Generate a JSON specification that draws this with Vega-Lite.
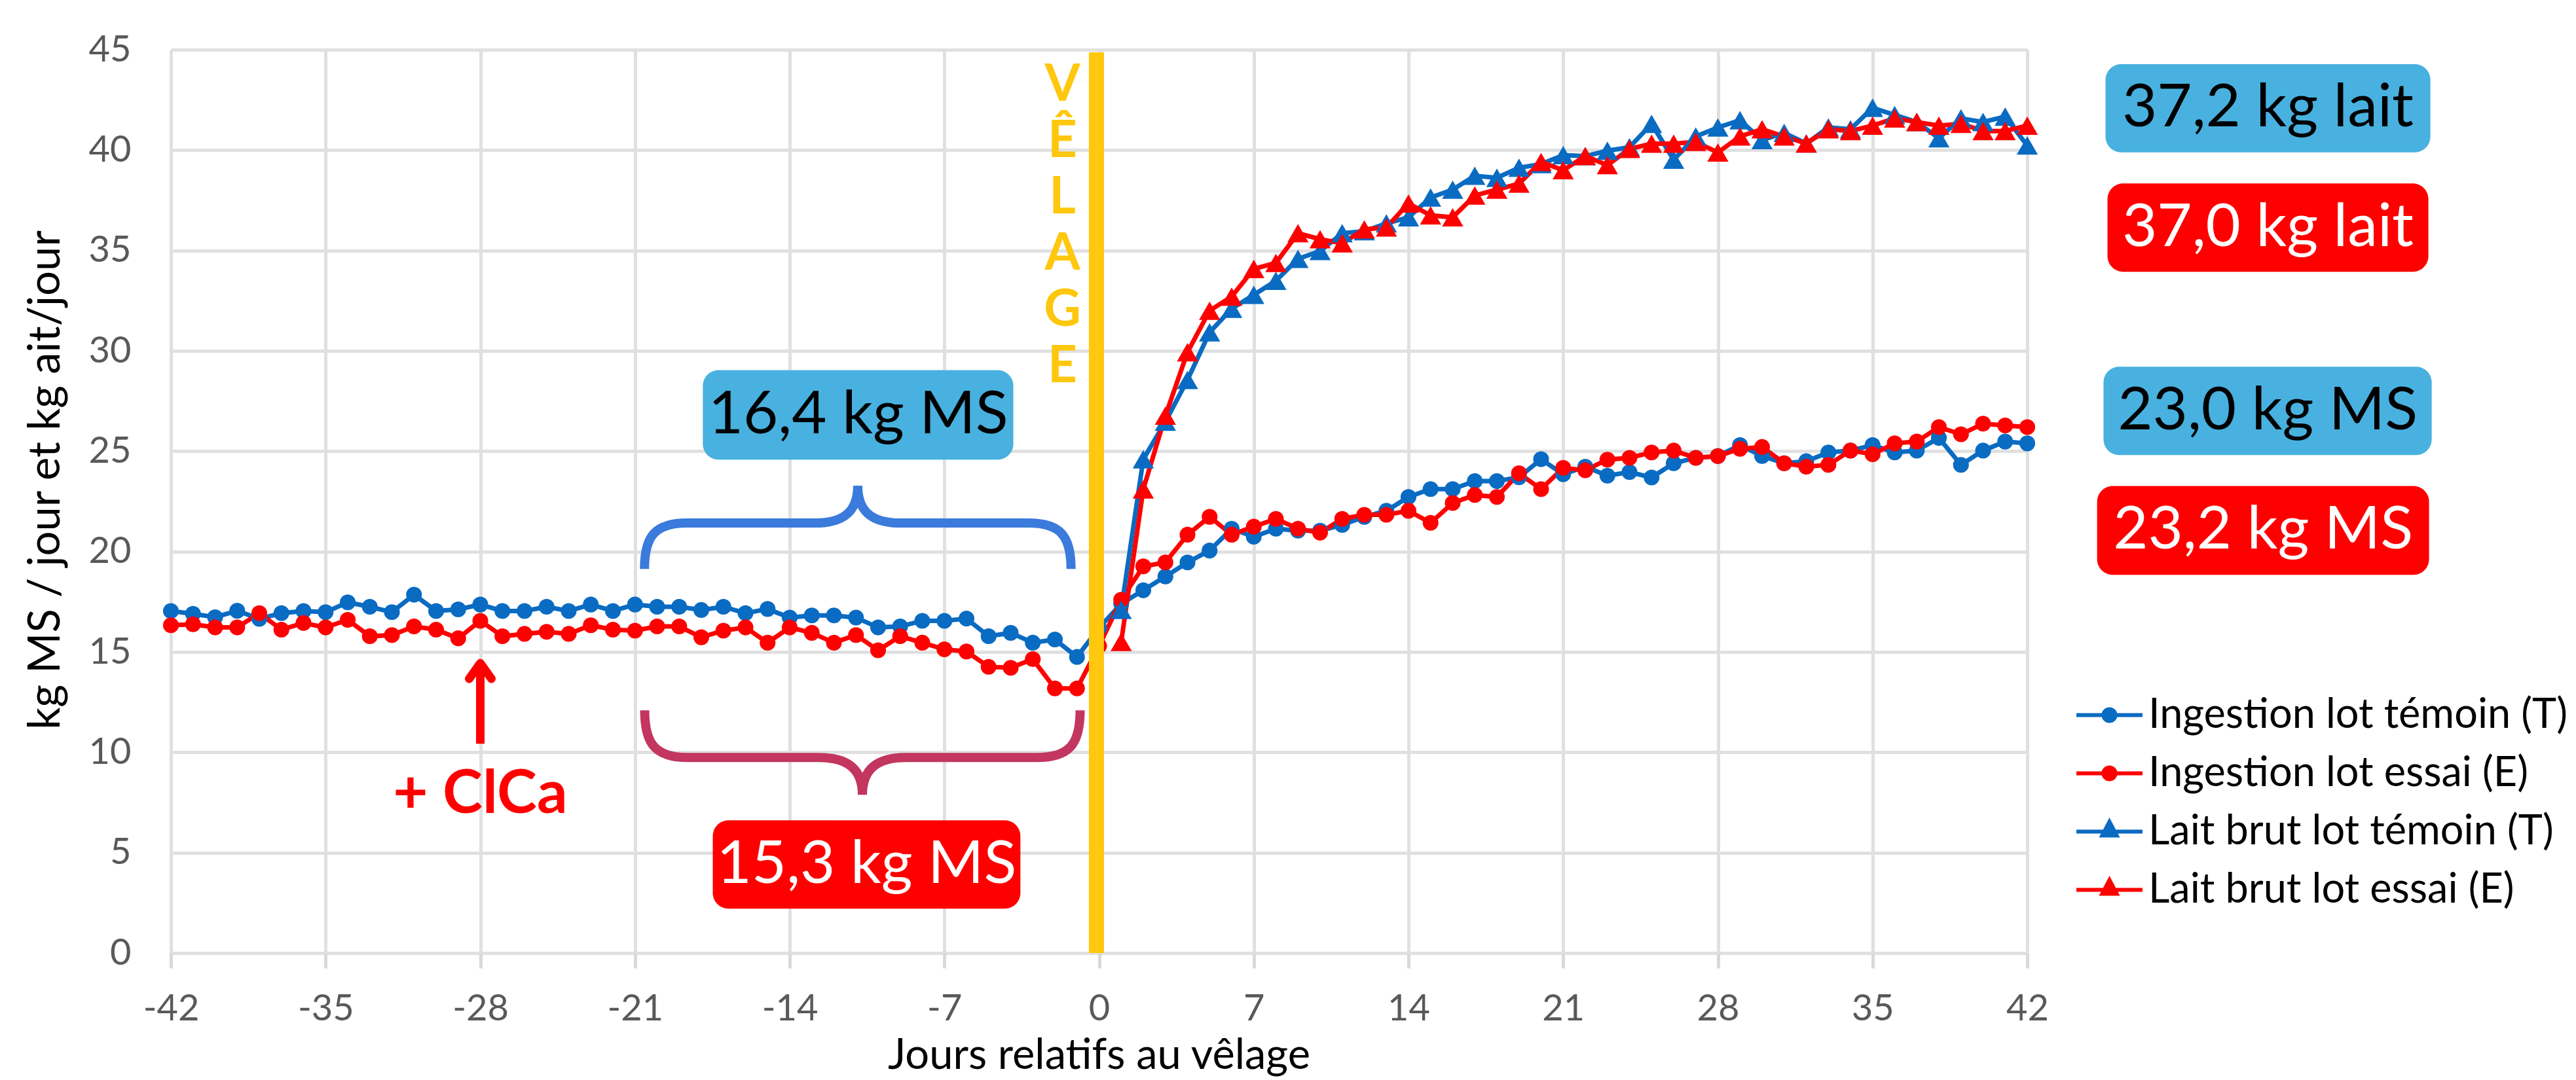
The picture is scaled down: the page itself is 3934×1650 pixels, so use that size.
{
  "$schema": "https://vega.github.io/schema/vega-lite/v6.json",
  "width": 2835,
  "height": 1380,
  "autosize": {"type": "none"},
  "padding": {"left": 261, "top": 76, "right": 838, "bottom": 194},
  "background": "#ffffff",
  "config": {"font": "Lato", "view": {"stroke": null}},
  "data": {"values": [
    {"jour":-42,"serie":"IT","kg":17.04},{"jour":-41,"serie":"IT","kg":16.9},{"jour":-40,"serie":"IT","kg":16.73},{"jour":-39,"serie":"IT","kg":17.05},{"jour":-38,"serie":"IT","kg":16.65},{"jour":-37,"serie":"IT","kg":16.93},{"jour":-36,"serie":"IT","kg":17.04},{"jour":-35,"serie":"IT","kg":16.98},{"jour":-34,"serie":"IT","kg":17.47},{"jour":-33,"serie":"IT","kg":17.25},{"jour":-32,"serie":"IT","kg":16.98},{"jour":-31,"serie":"IT","kg":17.85},{"jour":-30,"serie":"IT","kg":17.04},{"jour":-29,"serie":"IT","kg":17.12},{"jour":-28,"serie":"IT","kg":17.36},{"jour":-27,"serie":"IT","kg":17.04},{"jour":-26,"serie":"IT","kg":17.04},{"jour":-25,"serie":"IT","kg":17.25},{"jour":-24,"serie":"IT","kg":17.04},{"jour":-23,"serie":"IT","kg":17.36},{"jour":-22,"serie":"IT","kg":17.04},{"jour":-21,"serie":"IT","kg":17.36},{"jour":-20,"serie":"IT","kg":17.25},{"jour":-19,"serie":"IT","kg":17.25},{"jour":-18,"serie":"IT","kg":17.09},{"jour":-17,"serie":"IT","kg":17.25},{"jour":-16,"serie":"IT","kg":16.93},{"jour":-15,"serie":"IT","kg":17.14},{"jour":-14,"serie":"IT","kg":16.71},{"jour":-13,"serie":"IT","kg":16.82},{"jour":-12,"serie":"IT","kg":16.82},{"jour":-11,"serie":"IT","kg":16.71},{"jour":-10,"serie":"IT","kg":16.22},{"jour":-9,"serie":"IT","kg":16.27},{"jour":-8,"serie":"IT","kg":16.55},{"jour":-7,"serie":"IT","kg":16.55},{"jour":-6,"serie":"IT","kg":16.66},{"jour":-5,"serie":"IT","kg":15.78},{"jour":-4,"serie":"IT","kg":15.95},{"jour":-3,"serie":"IT","kg":15.46},{"jour":-2,"serie":"IT","kg":15.62},{"jour":-1,"serie":"IT","kg":14.75},{"jour":0,"serie":"IT","kg":16.2},{"jour":1,"serie":"IT","kg":17.4},{"jour":2,"serie":"IT","kg":18.07},{"jour":3,"serie":"IT","kg":18.76},{"jour":4,"serie":"IT","kg":19.46},{"jour":5,"serie":"IT","kg":20.05},{"jour":6,"serie":"IT","kg":21.14},{"jour":7,"serie":"IT","kg":20.74},{"jour":8,"serie":"IT","kg":21.14},{"jour":9,"serie":"IT","kg":21.04},{"jour":10,"serie":"IT","kg":21.04},{"jour":11,"serie":"IT","kg":21.33},{"jour":12,"serie":"IT","kg":21.73},{"jour":13,"serie":"IT","kg":22.03},{"jour":14,"serie":"IT","kg":22.72},{"jour":15,"serie":"IT","kg":23.11},{"jour":16,"serie":"IT","kg":23.11},{"jour":17,"serie":"IT","kg":23.51},{"jour":18,"serie":"IT","kg":23.51},{"jour":19,"serie":"IT","kg":23.7},{"jour":20,"serie":"IT","kg":24.6},{"jour":21,"serie":"IT","kg":23.85},{"jour":22,"serie":"IT","kg":24.23},{"jour":23,"serie":"IT","kg":23.78},{"jour":24,"serie":"IT","kg":23.96},{"jour":25,"serie":"IT","kg":23.69},{"jour":26,"serie":"IT","kg":24.4},{"jour":27,"serie":"IT","kg":24.67},{"jour":28,"serie":"IT","kg":24.76},{"jour":29,"serie":"IT","kg":25.3},{"jour":30,"serie":"IT","kg":24.76},{"jour":31,"serie":"IT","kg":24.4},{"jour":32,"serie":"IT","kg":24.5},{"jour":33,"serie":"IT","kg":24.94},{"jour":34,"serie":"IT","kg":25.03},{"jour":35,"serie":"IT","kg":25.3},{"jour":36,"serie":"IT","kg":24.94},{"jour":37,"serie":"IT","kg":25.03},{"jour":38,"serie":"IT","kg":25.66},{"jour":39,"serie":"IT","kg":24.32},{"jour":40,"serie":"IT","kg":25.03},{"jour":41,"serie":"IT","kg":25.48},{"jour":42,"serie":"IT","kg":25.39},
    {"jour":-42,"serie":"IE","kg":16.33},{"jour":-41,"serie":"IE","kg":16.38},{"jour":-40,"serie":"IE","kg":16.22},{"jour":-39,"serie":"IE","kg":16.22},{"jour":-38,"serie":"IE","kg":16.93},{"jour":-37,"serie":"IE","kg":16.11},{"jour":-36,"serie":"IE","kg":16.44},{"jour":-35,"serie":"IE","kg":16.22},{"jour":-34,"serie":"IE","kg":16.6},{"jour":-33,"serie":"IE","kg":15.78},{"jour":-32,"serie":"IE","kg":15.84},{"jour":-31,"serie":"IE","kg":16.27},{"jour":-30,"serie":"IE","kg":16.11},{"jour":-29,"serie":"IE","kg":15.68},{"jour":-28,"serie":"IE","kg":16.55},{"jour":-27,"serie":"IE","kg":15.78},{"jour":-26,"serie":"IE","kg":15.9},{"jour":-25,"serie":"IE","kg":16.0},{"jour":-24,"serie":"IE","kg":15.9},{"jour":-23,"serie":"IE","kg":16.33},{"jour":-22,"serie":"IE","kg":16.11},{"jour":-21,"serie":"IE","kg":16.06},{"jour":-20,"serie":"IE","kg":16.27},{"jour":-19,"serie":"IE","kg":16.27},{"jour":-18,"serie":"IE","kg":15.73},{"jour":-17,"serie":"IE","kg":16.06},{"jour":-16,"serie":"IE","kg":16.22},{"jour":-15,"serie":"IE","kg":15.46},{"jour":-14,"serie":"IE","kg":16.22},{"jour":-13,"serie":"IE","kg":15.95},{"jour":-12,"serie":"IE","kg":15.46},{"jour":-11,"serie":"IE","kg":15.84},{"jour":-10,"serie":"IE","kg":15.08},{"jour":-9,"serie":"IE","kg":15.78},{"jour":-8,"serie":"IE","kg":15.46},{"jour":-7,"serie":"IE","kg":15.13},{"jour":-6,"serie":"IE","kg":15.02},{"jour":-5,"serie":"IE","kg":14.26},{"jour":-4,"serie":"IE","kg":14.21},{"jour":-3,"serie":"IE","kg":14.64},{"jour":-2,"serie":"IE","kg":13.18},{"jour":-1,"serie":"IE","kg":13.18},{"jour":0,"serie":"IE","kg":15.3},{"jour":1,"serie":"IE","kg":17.6},{"jour":2,"serie":"IE","kg":19.26},{"jour":3,"serie":"IE","kg":19.46},{"jour":4,"serie":"IE","kg":20.84},{"jour":5,"serie":"IE","kg":21.73},{"jour":6,"serie":"IE","kg":20.84},{"jour":7,"serie":"IE","kg":21.24},{"jour":8,"serie":"IE","kg":21.63},{"jour":9,"serie":"IE","kg":21.14},{"jour":10,"serie":"IE","kg":20.94},{"jour":11,"serie":"IE","kg":21.63},{"jour":12,"serie":"IE","kg":21.83},{"jour":13,"serie":"IE","kg":21.83},{"jour":14,"serie":"IE","kg":22.03},{"jour":15,"serie":"IE","kg":21.43},{"jour":16,"serie":"IE","kg":22.42},{"jour":17,"serie":"IE","kg":22.82},{"jour":18,"serie":"IE","kg":22.72},{"jour":19,"serie":"IE","kg":23.9},{"jour":20,"serie":"IE","kg":23.11},{"jour":21,"serie":"IE","kg":24.17},{"jour":22,"serie":"IE","kg":24.05},{"jour":23,"serie":"IE","kg":24.58},{"jour":24,"serie":"IE","kg":24.67},{"jour":25,"serie":"IE","kg":24.94},{"jour":26,"serie":"IE","kg":25.03},{"jour":27,"serie":"IE","kg":24.67},{"jour":28,"serie":"IE","kg":24.76},{"jour":29,"serie":"IE","kg":25.12},{"jour":30,"serie":"IE","kg":25.21},{"jour":31,"serie":"IE","kg":24.4},{"jour":32,"serie":"IE","kg":24.23},{"jour":33,"serie":"IE","kg":24.32},{"jour":34,"serie":"IE","kg":25.03},{"jour":35,"serie":"IE","kg":24.85},{"jour":36,"serie":"IE","kg":25.39},{"jour":37,"serie":"IE","kg":25.48},{"jour":38,"serie":"IE","kg":26.2},{"jour":39,"serie":"IE","kg":25.84},{"jour":40,"serie":"IE","kg":26.37},{"jour":41,"serie":"IE","kg":26.28},{"jour":42,"serie":"IE","kg":26.2},
    {"jour":1,"serie":"LT","kg":17.1},{"jour":2,"serie":"LT","kg":24.6},{"jour":3,"serie":"LT","kg":26.47},{"jour":4,"serie":"LT","kg":28.55},{"jour":5,"serie":"LT","kg":30.92},{"jour":6,"serie":"LT","kg":32.1},{"jour":7,"serie":"LT","kg":32.79},{"jour":8,"serie":"LT","kg":33.49},{"jour":9,"serie":"LT","kg":34.58},{"jour":10,"serie":"LT","kg":34.97},{"jour":11,"serie":"LT","kg":35.86},{"jour":12,"serie":"LT","kg":35.96},{"jour":13,"serie":"LT","kg":36.35},{"jour":14,"serie":"LT","kg":36.65},{"jour":15,"serie":"LT","kg":37.64},{"jour":16,"serie":"LT","kg":38.03},{"jour":17,"serie":"LT","kg":38.72},{"jour":18,"serie":"LT","kg":38.62},{"jour":19,"serie":"LT","kg":39.12},{"jour":20,"serie":"LT","kg":39.3},{"jour":21,"serie":"LT","kg":39.75},{"jour":22,"serie":"LT","kg":39.7},{"jour":23,"serie":"LT","kg":39.97},{"jour":24,"serie":"LT","kg":40.14},{"jour":25,"serie":"LT","kg":41.31},{"jour":26,"serie":"LT","kg":39.52},{"jour":27,"serie":"LT","kg":40.68},{"jour":28,"serie":"LT","kg":41.13},{"jour":29,"serie":"LT","kg":41.49},{"jour":30,"serie":"LT","kg":40.5},{"jour":31,"serie":"LT","kg":40.86},{"jour":32,"serie":"LT","kg":40.33},{"jour":33,"serie":"LT","kg":41.13},{"jour":34,"serie":"LT","kg":41.04},{"jour":35,"serie":"LT","kg":42.11},{"jour":36,"serie":"LT","kg":41.75},{"jour":37,"serie":"LT","kg":41.4},{"jour":38,"serie":"LT","kg":40.59},{"jour":39,"serie":"LT","kg":41.58},{"jour":40,"serie":"LT","kg":41.4},{"jour":41,"serie":"LT","kg":41.67},{"jour":42,"serie":"LT","kg":40.23},
    {"jour":1,"serie":"LE","kg":15.5},{"jour":2,"serie":"LE","kg":23.1},{"jour":3,"serie":"LE","kg":26.77},{"jour":4,"serie":"LE","kg":29.93},{"jour":5,"serie":"LE","kg":32.0},{"jour":6,"serie":"LE","kg":32.7},{"jour":7,"serie":"LE","kg":34.08},{"jour":8,"serie":"LE","kg":34.38},{"jour":9,"serie":"LE","kg":35.86},{"jour":10,"serie":"LE","kg":35.56},{"jour":11,"serie":"LE","kg":35.36},{"jour":12,"serie":"LE","kg":36.05},{"jour":13,"serie":"LE","kg":36.15},{"jour":14,"serie":"LE","kg":37.34},{"jour":15,"serie":"LE","kg":36.75},{"jour":16,"serie":"LE","kg":36.65},{"jour":17,"serie":"LE","kg":37.74},{"jour":18,"serie":"LE","kg":38.03},{"jour":19,"serie":"LE","kg":38.33},{"jour":20,"serie":"LE","kg":39.41},{"jour":21,"serie":"LE","kg":39.0},{"jour":22,"serie":"LE","kg":39.7},{"jour":23,"serie":"LE","kg":39.25},{"jour":24,"serie":"LE","kg":40.06},{"jour":25,"serie":"LE","kg":40.32},{"jour":26,"serie":"LE","kg":40.32},{"jour":27,"serie":"LE","kg":40.41},{"jour":28,"serie":"LE","kg":39.88},{"jour":29,"serie":"LE","kg":40.68},{"jour":30,"serie":"LE","kg":41.04},{"jour":31,"serie":"LE","kg":40.68},{"jour":32,"serie":"LE","kg":40.33},{"jour":33,"serie":"LE","kg":41.04},{"jour":34,"serie":"LE","kg":40.95},{"jour":35,"serie":"LE","kg":41.22},{"jour":36,"serie":"LE","kg":41.58},{"jour":37,"serie":"LE","kg":41.4},{"jour":38,"serie":"LE","kg":41.22},{"jour":39,"serie":"LE","kg":41.31},{"jour":40,"serie":"LE","kg":40.95},{"jour":41,"serie":"LE","kg":40.95},{"jour":42,"serie":"LE","kg":41.22}
  ]},
  "layer": [
    {
      "mark": {"type": "line", "strokeWidth": 7},
      "encoding": {
        "x": {"field": "jour", "type": "quantitative",
          "scale": {"domain": [-42, 42], "nice": false, "zero": false},
          "axis": {"values": [-42,-35,-28,-21,-14,-7,0,7,14,21,28,35,42], "title": "Jours relatifs au vêlage",
            "grid": true, "gridColor": "#E0E0E0", "gridWidth": 5, "domain": false,
            "ticks": true, "tickSize": 23, "tickColor": "#D9D9D9", "tickWidth": 5,
            "labelFont": "Lato", "labelFontSize": 56, "labelColor": "#595959", "labelPadding": 35, "labelFlush": false,
            "labelExpr": "'' + datum.value",
            "titleFont": "Lato", "titleFontSize": 65, "titleFontWeight": "normal", "titleColor": "#000000",
            "titleX": 1417, "titleY": 176, "titleAlign": "center", "titleBaseline": "alphabetic"}},
        "y": {"field": "kg", "type": "quantitative",
          "scale": {"domain": [0, 45], "nice": false},
          "axis": {"values": [0,5,10,15,20,25,30,35,40,45], "title": "kg MS / jour et kg ait/jour",
            "grid": true, "gridColor": "#E0E0E0", "gridWidth": 5, "domain": false, "ticks": false,
            "labelFont": "Lato", "labelFontSize": 56, "labelColor": "#595959", "labelPadding": 61, "labelFlush": false,
            "titleFont": "Lato", "titleFontSize": 67, "titleFontWeight": "normal", "titleColor": "#000000",
            "titleX": -191, "titleY": 657, "titleAngle": -90, "titleAlign": "center", "titleBaseline": "middle"}},
        "color": {"field": "serie", "type": "nominal",
          "scale": {"domain": ["IT","IE","LT","LE"], "range": ["#0A6BC2","#FF0000","#0A6BC2","#FF0000"]},
          "legend": {"orient": "none", "legendX": 2907, "legendY": 963, "title": null, "direction": "vertical",
            "padding": 0, "symbolSize": 10201, "symbolStrokeWidth": 6, "rowPadding": 3,
            "labelFont": "Lato", "labelFontSize": 63, "labelColor": "#000000", "labelOffset": 6, "labelLimit": 0,
            "labelExpr": "datum.value == 'IT' ? 'Ingestion lot témoin (T)' : datum.value == 'IE' ? 'Ingestion lot essai (E)' : datum.value == 'LT' ? 'Lait brut lot témoin (T)' : 'Lait brut lot essai (E)'",
            "encode": {"symbols": {"update": {
              "shape": {"signal": "(datum.value == 'IT' || datum.value == 'IE') ? 'M-1,0H1M0.18,0A0.18,0.18,0,1,1,-0.18,0A0.18,0.18,0,1,1,0.18,0Z' : 'M-1,0H1M0,-0.3L0.22,0.12L-0.22,0.12Z'"},
              "fill": {"scale": "color", "field": "value"},
              "stroke": {"scale": "color", "field": "value"},
              "strokeWidth": {"value": 6},
              "opacity": {"value": 1}}}}}}
      }
    },
    {
      "transform": [{"filter": "datum.serie == 'IT' || datum.serie == 'IE'"}],
      "mark": {"type": "point", "shape": "circle", "filled": true, "size": 580, "opacity": 1},
      "encoding": {
        "x": {"field": "jour", "type": "quantitative"},
        "y": {"field": "kg", "type": "quantitative"},
        "color": {"field": "serie", "type": "nominal"}
      }
    },
    {
      "transform": [{"filter": "datum.serie == 'LT' || datum.serie == 'LE'"}],
      "mark": {"type": "point", "shape": "triangle-up", "filled": true, "size": 1050, "opacity": 1},
      "encoding": {
        "x": {"field": "jour", "type": "quantitative"},
        "y": {"field": "kg", "type": "quantitative"},
        "color": {"field": "serie", "type": "nominal"}
      }
    },
    {
      "data": {"values": [{}]},
      "mark": {"type": "rule", "color": "#FFC70D", "strokeWidth": 23},
      "encoding": {"x": {"datum": -0.12}, "y": {"datum": 0}, "y2": {"datum": 44.87}}
    },
    {
      "data": {"values": [{}]},
      "mark": {"type": "text", "text": ["V","Ê","L","A","G","E"], "font": "Lato", "fontWeight": "bold", "fontSize": 78, "lineHeight": 86, "color": "#FFC70D", "align": "center", "baseline": "alphabetic"},
      "encoding": {"x": {"datum": -1.66}, "y": {"datum": 42.45}}
    },
    {
      "data": {"values": [{}]},
      "mark": {"type": "point", "filled": false, "opacity": 1, "color": "#3A7BDB", "strokeWidth": 14, "strokeCap": "butt", "size": 424322,
        "shape": "M-1,0.215C-1,0.06,-0.95,0,-0.8,0L-0.2,0C-0.06,0,0,-0.06,0,-0.175C0,-0.06,0.06,0,0.2,0L0.8,0C0.95,0,1,0.06,1,0.215"},
      "encoding": {"x": {"datum": -10.92}, "y": {"datum": 21.42}}
    },
    {
      "data": {"values": [{}]},
      "mark": {"type": "point", "filled": false, "opacity": 1, "color": "#C2365F", "strokeWidth": 14, "strokeCap": "butt", "size": 442225,
        "shape": "M-1,-0.217C-1,-0.06,-0.95,0,-0.8,0L-0.2,0C-0.06,0,0,0.06,0,0.171C0,0.06,0.06,0,0.2,0L0.8,0C0.95,0,1,-0.06,1,-0.217"},
      "encoding": {"x": {"datum": -10.71}, "y": {"datum": 9.74}}
    },
    {
      "data": {"values": [{}]},
      "mark": {"type": "rule", "color": "#FF0000", "strokeWidth": 13},
      "encoding": {"x": {"datum": -28}, "y": {"datum": 10.43}, "y2": {"datum": 14.44}}
    },
    {
      "data": {"values": [{}]},
      "mark": {"type": "point", "filled": false, "opacity": 1, "color": "#FF0000", "strokeWidth": 13, "strokeCap": "round", "strokeJoin": "round", "size": 1156,
        "shape": "M-1,1.4L0,0L1,1.4"},
      "encoding": {"x": {"datum": -28}, "y": {"datum": 14.44}}
    },
    {
      "data": {"values": [{}]},
      "mark": {"type": "text", "text": "+ ClCa", "font": "Lato", "fontWeight": "bold", "fontSize": 92, "color": "#FF0000", "align": "center", "baseline": "alphabetic"},
      "encoding": {"x": {"datum": -28}, "y": {"datum": 6.97}}
    },
    {
      "data": {"values": [{}]},
      "mark": {"type": "rect", "color": "#48B1E0", "cornerRadius": 24},
      "encoding": {"x": {"datum": -17.93}, "x2": {"datum": -3.88}, "y": {"datum": 29.04}, "y2": {"datum": 24.58}}
    },
    {
      "data": {"values": [{}]},
      "mark": {"type": "text", "text": "16,4 kg MS", "font": "Lato", "fontSize": 92, "color": "#000000", "align": "center", "baseline": "middle"},
      "encoding": {"x": {"datum": -10.9}, "y": {"datum": 26.81}}
    },
    {
      "data": {"values": [{}]},
      "mark": {"type": "rect", "color": "#FF0000", "cornerRadius": 24},
      "encoding": {"x": {"datum": -17.48}, "x2": {"datum": -3.56}, "y": {"datum": 6.61}, "y2": {"datum": 2.21}}
    },
    {
      "data": {"values": [{}]},
      "mark": {"type": "text", "text": "15,3 kg MS", "font": "Lato", "fontSize": 92, "color": "#FFFFFF", "align": "center", "baseline": "middle"},
      "encoding": {"x": {"datum": -10.52}, "y": {"datum": 4.41}}
    },
    {
      "data": {"values": [{}]},
      "mark": {"type": "rect", "color": "#48B1E0", "cornerRadius": 24},
      "encoding": {"x": {"datum": 45.54}, "x2": {"datum": 60.24}, "y": {"datum": 44.28}, "y2": {"datum": 39.89}}
    },
    {
      "data": {"values": [{}]},
      "mark": {"type": "text", "text": "37,2 kg lait", "font": "Lato", "fontSize": 92, "color": "#000000", "align": "center", "baseline": "middle"},
      "encoding": {"x": {"datum": 52.89}, "y": {"datum": 42.09}}
    },
    {
      "data": {"values": [{}]},
      "mark": {"type": "rect", "color": "#FF0000", "cornerRadius": 24},
      "encoding": {"x": {"datum": 45.63}, "x2": {"datum": 60.15}, "y": {"datum": 38.34}, "y2": {"datum": 33.94}}
    },
    {
      "data": {"values": [{}]},
      "mark": {"type": "text", "text": "37,0 kg lait", "font": "Lato", "fontSize": 92, "color": "#FFFFFF", "align": "center", "baseline": "middle"},
      "encoding": {"x": {"datum": 52.89}, "y": {"datum": 36.14}}
    },
    {
      "data": {"values": [{}]},
      "mark": {"type": "rect", "color": "#48B1E0", "cornerRadius": 24},
      "encoding": {"x": {"datum": 45.45}, "x2": {"datum": 60.3}, "y": {"datum": 29.21}, "y2": {"datum": 24.81}}
    },
    {
      "data": {"values": [{}]},
      "mark": {"type": "text", "text": "23,0 kg MS", "font": "Lato", "fontSize": 92, "color": "#000000", "align": "center", "baseline": "middle"},
      "encoding": {"x": {"datum": 52.88}, "y": {"datum": 27.01}}
    },
    {
      "data": {"values": [{}]},
      "mark": {"type": "rect", "color": "#FF0000", "cornerRadius": 24},
      "encoding": {"x": {"datum": 45.16}, "x2": {"datum": 60.18}, "y": {"datum": 23.27}, "y2": {"datum": 18.84}}
    },
    {
      "data": {"values": [{}]},
      "mark": {"type": "text", "text": "23,2 kg MS", "font": "Lato", "fontSize": 92, "color": "#FFFFFF", "align": "center", "baseline": "middle"},
      "encoding": {"x": {"datum": 52.67}, "y": {"datum": 21.06}}
    }
  ]
}
